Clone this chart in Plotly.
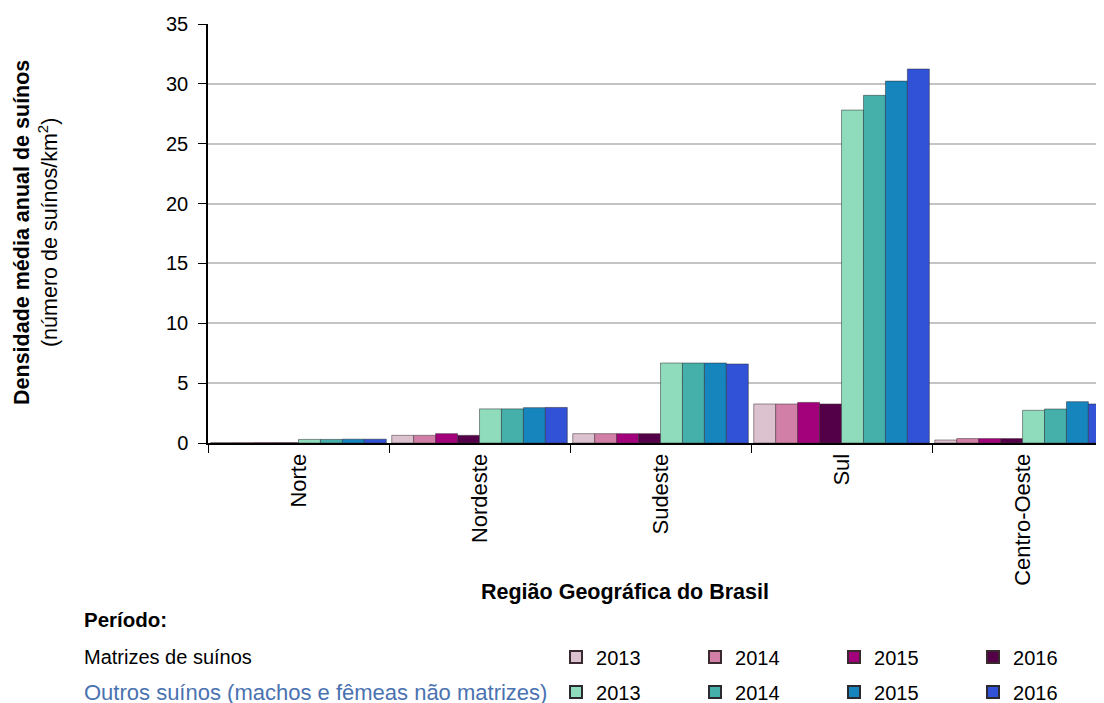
import plotly.graph_objects as go

regions = ["Norte", "Nordeste", "Sudeste", "Sul", "Centro-Oeste"]
years = ["2013", "2014", "2015", "2016"]

matrizes = {
    "2013": [0.03, 0.64, 0.78, 3.26, 0.25],
    "2014": [0.03, 0.64, 0.78, 3.26, 0.37],
    "2015": [0.03, 0.78, 0.78, 3.39, 0.37],
    "2016": [0.03, 0.64, 0.78, 3.26, 0.37],
}
outros = {
    "2013": [0.30, 2.85, 6.68, 27.81, 2.73],
    "2014": [0.30, 2.85, 6.68, 29.04, 2.84],
    "2015": [0.32, 2.95, 6.68, 30.23, 3.45],
    "2016": [0.32, 2.97, 6.60, 31.24, 3.26],
}

col_m = {"2013": "#dcc2cf", "2014": "#d27fa8", "2015": "#a3007c", "2016": "#540048"}
col_o = {"2013": "#8fdcbc", "2014": "#45b0aa", "2015": "#1685be", "2016": "#3152d6"}

fig = go.Figure()
for y in years:
    fig.add_trace(go.Bar(x=regions, y=matrizes[y], name=y, marker_color=col_m[y],
                         marker_line=dict(width=0.5, color="#3a2a30"), legend="legend"))
for y in years:
    fig.add_trace(go.Bar(x=regions, y=outros[y], name=y, marker_color=col_o[y],
                         marker_line=dict(width=0.5, color="#2a2a30"), legend="legend2"))

font = "Liberation Sans, Arial, sans-serif"
leg_common = dict(orientation="h", xref="container", yref="container",
                  xanchor="left", yanchor="middle", entrywidth=94,
                  entrywidthmode="pixels", font=dict(family=font, size=20, color="#000"),
                  bgcolor="rgba(0,0,0,0)", borderwidth=0, itemclick=False,
                  traceorder="normal", itemsizing="constant")

fig.update_layout(
    width=1104, height=703,
    margin=dict(l=200, r=8, t=16, b=268, autoexpand=False),
    paper_bgcolor="white", plot_bgcolor="white",
    barmode="group", bargap=0.03, bargroupgap=0,
    font=dict(family=font, size=20, color="#000"),
    legend=dict(x=0.4964, y=0.0768, **leg_common),
    legend2=dict(x=0.4964, y=0.0270, **leg_common),
    xaxis=dict(range=[-0.5, 4.45], tickangle=-90, tickson="boundaries", ticks="outside",
               ticklen=8, tickcolor="#000", showline=True, linecolor="#000", linewidth=2,
               showgrid=False, tickfont=dict(size=22), automargin=False),
    yaxis=dict(range=[0, 35], dtick=5, ticks="outside", ticklen=8, tickcolor="#000",
               showline=True, linecolor="#000", linewidth=1.5, showgrid=True, gridcolor="#c4c4c4",
               gridwidth=1.5, zeroline=False, tickfont=dict(size=20), automargin=False,
               ticklabelstandoff=6),
)

fig.add_annotation(text="<b>Região Geográfica do Brasil</b>", xref="paper", yref="paper",
                   x=0.465, y=-0.3556, xanchor="center", yanchor="middle", showarrow=False,
                   font=dict(size=21.5))
fig.add_annotation(text="<b>Densidade média anual de suínos</b><br>(número de suínos/km<sup>2</sup>)",
                   xref="paper", yref="paper", x=-0.192, y=0.5036, xanchor="center",
                   yanchor="middle", textangle=-90, showarrow=False, font=dict(size=21.5))
fig.add_annotation(text="<b>Período:</b>", xref="paper", yref="paper", x=-0.1406, y=-0.4224,
                   xanchor="left", yanchor="middle", showarrow=False, font=dict(size=20.5))
fig.add_annotation(text="Matrizes de suínos", xref="paper", yref="paper", x=-0.1406, y=-0.5107,
                   xanchor="left", yanchor="middle", showarrow=False, font=dict(size=20))
fig.add_annotation(text="Outros suínos (machos e fêmeas não matrizes)", xref="paper", yref="paper",
                   x=-0.1406, y=-0.5943, xanchor="left", yanchor="middle", showarrow=False,
                   font=dict(size=22, color="#4a72b0"))

fig.write_html("out.html")
